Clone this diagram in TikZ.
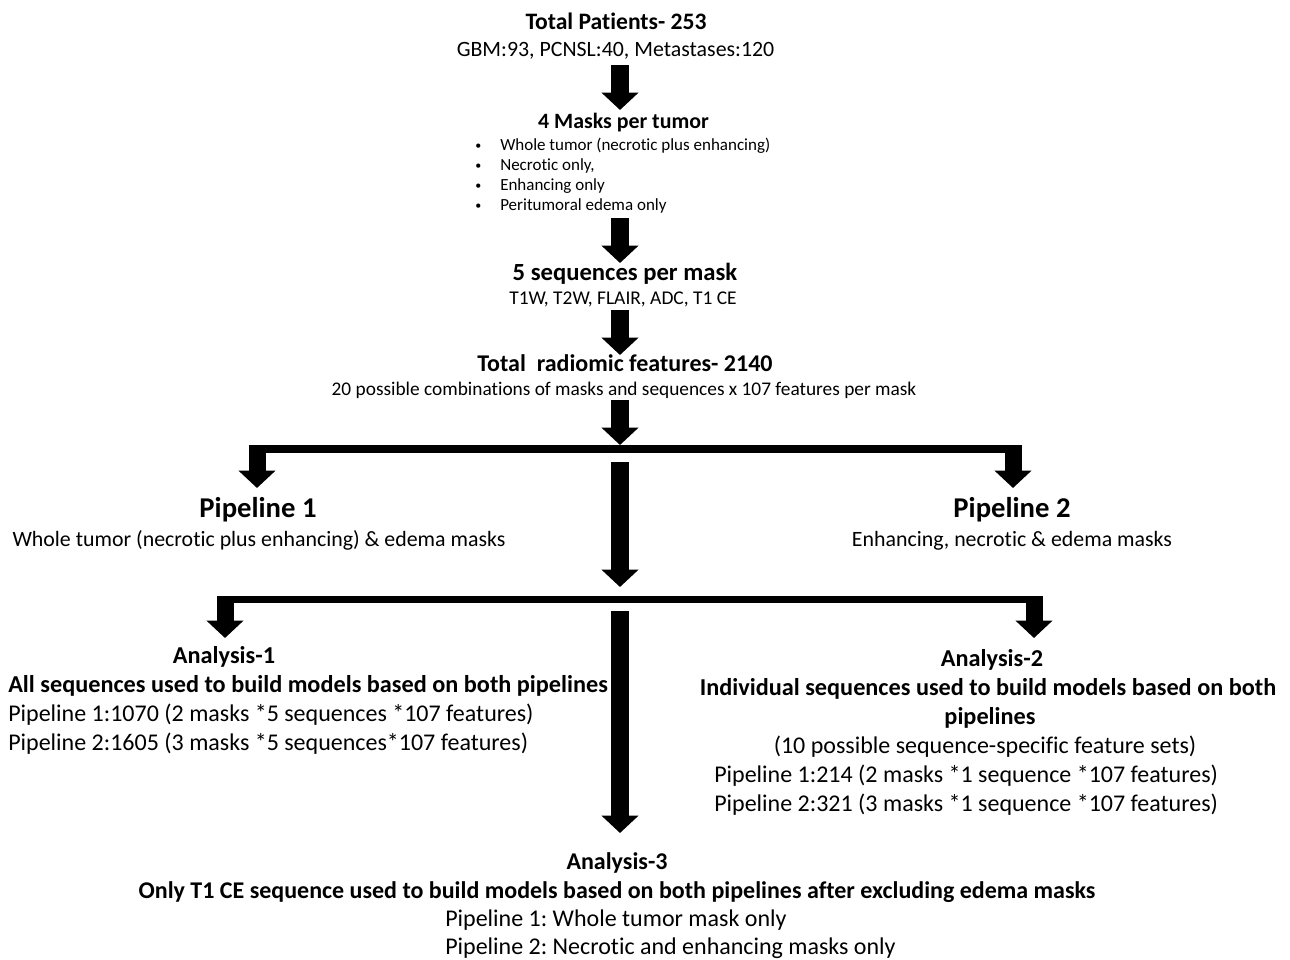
\documentclass[tikz,border=0pt]{standalone}
\usepackage{fontspec}
\setmainfont[Ligatures=NoCommon]{Carlito}
\usetikzlibrary{arrows.meta, calc}

\newcommand{\fsz}[1]{\fontsize{#1}{#1}\selectfont}
\newcommand{\blt}{\makebox[18.75pt][l]{\raisebox{0.6pt}{\fsz{9}\textbullet}}}
\frenchspacing

\begin{document}
\begin{tikzpicture}[
  x=0.75pt, y=-0.75pt,
  txt/.style={inner sep=0pt, anchor=base},
  txtl/.style={inner sep=0pt, anchor=base west},
  fat/.style={line width=13.5pt, -{Triangle[length=13pt, width=27pt]}},
  drop/.style={line width=12.75pt, -{Triangle[length=13pt, width=27pt]}},
  bar/.style={line width=5.6pt}
]
  \useasboundingbox (0,0) rectangle (1290,960);
  \coordinate (spine) at (620,0);

  % ========== PATIENTS ==========
  \node[txt, font=\fsz{17.7}\bfseries] (tot) at (616,29) {Total Patients- 253};
  \node[txt, font=\fsz{16.4}] (grp) at (615.5,56) {GBM:93, PCNSL:40, Metastases:120};

  % ========== MASKS ==========
  \node[txt, font=\fsz{16.4}\bfseries] (masks) at (623.5,128) {4 Masks per tumor};
  \node[txtl, font=\fsz{12.75}] (b1) at (475,150.5) {\blt Whole tumor (necrotic plus enhancing)};
  \node[txtl, font=\fsz{12.75}] (b2) at (475,170.5) {\blt Necrotic only,};
  \node[txtl, font=\fsz{12.75}] (b3) at (475,190.5) {\blt Enhancing only};
  \node[txtl, font=\fsz{12.75}] (b4) at (475,210.5) {\blt Peritumoral edema only};

  % ========== SEQUENCES ==========
  \node[txt, font=\fsz{18.5}\bfseries] (seqs) at (625,280) {5 sequences per mask};
  \node[txt, font=\fsz{14.6}] (seql) at (623,304) {T1W, T2W, FLAIR, ADC, T1 CE};

  % ========== FEATURES ==========
  \node[txt, font=\fsz{18}\bfseries] (feat) at (625,371) {Total\ \ radiomic features- 2140};
  \node[txt, font=\fsz{14.5}] (comb) at (624,395)
    {20 possible combinations of masks and sequences x 107 features per mask};

  % ========== PIPELINES ==========
  \node[txt, font=\fsz{21.5}\bfseries] (pipe1) at (258,517) {Pipeline 1};
  \node[txt, font=\fsz{16.4}] (pipe1d) at (259,546)
    {Whole tumor (necrotic plus enhancing) \& edema masks};
  \node[txt, font=\fsz{21.5}\bfseries] (pipe2) at (1012,517) {Pipeline 2};
  \node[txt, font=\fsz{16.4}] (pipe2d) at (1012,546) {Enhancing, necrotic \& edema masks};

  % ========== ANALYSIS 1 ==========
  \node[txt, font=\fsz{18.2}\bfseries] (an1) at (224,663) {Analysis-1};
  \node[txtl, font=\fsz{18.2}\bfseries] (an1a) at (8,692)
    {All sequences used to build models based on both pipelines};
  \node[txtl, font=\fsz{18}] (an1b) at (8,721)
    {Pipeline 1:1070 (2 masks *5 sequences *107 features)};
  \node[txtl, font=\fsz{18}] (an1c) at (8,750)
    {Pipeline 2:1605 (3 masks *5 sequences*107 features)};

  % ========== ANALYSIS 2 ==========
  \node[txt, font=\fsz{18.2}\bfseries] (an2) at (992,666) {Analysis-2};
  \node[txt, font=\fsz{18.2}\bfseries] (an2a) at (988,695)
    {Individual sequences used to build models based on both};
  \node[txt, font=\fsz{18.2}\bfseries] (an2b) at (990,724) {pipelines};
  \node[txt, font=\fsz{18}] (an2c) at (985,753) {(10 possible sequence-specific feature sets)};
  \node[txtl, font=\fsz{18}] (an2d) at (714,782)
    {Pipeline 1:214 (2 masks *1 sequence *107 features)};
  \node[txtl, font=\fsz{18}] (an2e) at (714,811)
    {Pipeline 2:321 (3 masks *1 sequence *107 features)};

  % ========== ANALYSIS 3 ==========
  \node[txt, font=\fsz{18}\bfseries] (an3) at (617,869) {Analysis-3};
  \node[txt, font=\fsz{18}\bfseries] (an3a) at (617,898)
    {Only T1 CE sequence used to build models based on both pipelines after excluding edema masks};
  \node[txtl, font=\fsz{18}] (an3b) at (445,926) {Pipeline 1: Whole tumor mask only};
  \node[txtl, font=\fsz{18}] (an3c) at (445,954) {Pipeline 2: Necrotic and enhancing masks only};

  % ======== JUNCTIONS ========
  \coordinate (j1) at (620,449);
  \coordinate (j1l) at (257,449);
  \coordinate (j1r) at (1013,449);
  \coordinate (j2) at (620,599.5);
  \coordinate (j2l) at (225,599.5);
  \coordinate (j2r) at (1034,599.5);

  % ======== MAIN SPINE ========
  \draw[fat] ($(grp.base -| spine)+(0,9)$) -- ($(masks.base -| spine)+(0,-18)$);
  \draw[fat] ($(b4.base -| spine)+(0,7.5)$) -- ($(seqs.base -| spine)+(0,-17)$);
  \draw[fat] ($(seql.base -| spine)+(0,6)$) -- ($(feat.base -| spine)+(0,-16)$);
  \draw[fat] ($(comb.base -| spine)+(0,5)$) -- ($(j1)+(0,-4)$);

  % ======== SPLIT TO PIPELINES ========
  \draw[bar] ($(j1l)+(-8.5,0)$) -- ($(j1r)+(8.5,0)$);
  \draw[drop] ($(j1l)+(0,-4)$) -- ($(pipe1.base -| j1l)+(0,-29)$);
  \draw[drop] ($(j1r)+(0,-4)$) -- ($(pipe2.base -| j1r)+(0,-29)$);
  \draw[fat] ($(j1)+(0,13)$) -- ($(j2)+(0,-12.5)$);

  % ======== SPLIT TO ANALYSES ========
  \draw[bar] ($(j2l)+(-8.5,0)$) -- ($(j2r)+(8.5,0)$);
  \draw[drop] ($(j2l)+(0,-3.5)$) -- ($(an1.base -| j2l)+(0,-25)$);
  \draw[drop] ($(j2r)+(0,-3.5)$) -- ($(an2.base -| j2r)+(0,-28)$);
  \draw[fat] ($(j2)+(0,11.5)$) -- ($(an3.base -| spine)+(0,-36)$);

\end{tikzpicture}
\end{document}
